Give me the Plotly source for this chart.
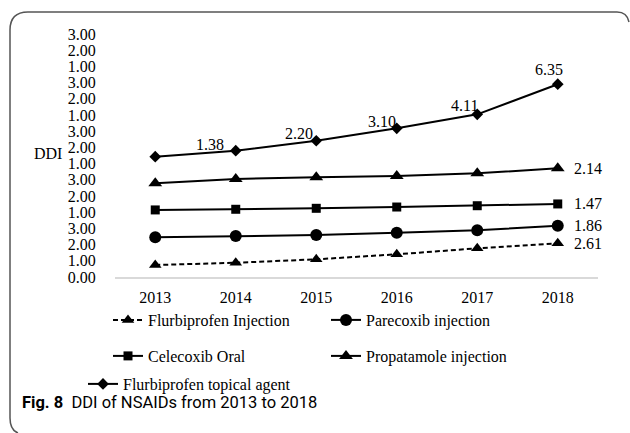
import plotly.graph_objects as go

# data (plotted on the figure's own 0..15 tick scale)
years = [2013, 2014, 2015, 2016, 2017, 2018]
flurbi_injection = [0.74, 0.88, 1.09, 1.40, 1.77, 2.08]
parecoxib = [2.45, 2.53, 2.59, 2.73, 2.88, 3.17]
celecoxib = [4.14, 4.18, 4.24, 4.32, 4.40, 4.51]
propatamole = [5.78, 6.05, 6.15, 6.23, 6.40, 6.71]
flurbi_topical = [7.43, 7.80, 8.41, 9.18, 10.04, 11.90]

topical_labels = ["", "1.38", "2.20", "3.10", "4.11", "6.35"]
end_labels = {"Propatamole injection": "2.14", "Celecoxib Oral": "1.47",
              "Parecoxib injection": "1.86", "Flurbiprofen Injection": "2.61"}

ytick_vals = list(range(16))
ytick_text = ["0.00", "1.00", "2.00", "3.00", "1.00", "2.00", "3.00", "1.00",
              "2.00", "3.00", "1.00", "2.00", "3.00", "1.00", "2.00", "3.00"]

W, H = 630, 433
ML, MR, MT, MB = 115, 32, 34, 156
PW, PH = W - ML - MR, H - MT - MB


def px(x):
    return (x - ML) / PW


def py(y):
    return (H - MB - y) / PH


serif = "Liberation Serif, Times New Roman, serif"

fig = go.Figure()

series = [
    ("Flurbiprofen Injection", flurbi_injection, "triangle-up", 11, "5px,3px", "legend"),
    ("Parecoxib injection", parecoxib, "circle", 12, "solid", "legend"),
    ("Celecoxib Oral", celecoxib, "square", 9, "solid", "legend2"),
    ("Propatamole injection", propatamole, "triangle-up", 12, "solid", "legend2"),
    ("Flurbiprofen topical agent", flurbi_topical, "diamond", 9, "solid", "legend3"),
]
for name, vals, sym, size, dash, leg in series:
    fig.add_trace(go.Scatter(
        x=years, y=vals, name=name, mode="lines+markers", legend=leg,
        line=dict(color="black", width=2, dash=dash),
        marker=dict(symbol=sym, size=size, color="black"),
        cliponaxis=False,
    ))

# value labels
offsets = [(0, 0), (-26, 6), (-17, 7), (-15, 7), (-13, 9), (-9, 15)]
for yr, v, t, (dx, dy) in zip(years, flurbi_topical, topical_labels, offsets):
    if t:
        fig.add_annotation(x=yr, y=v, text=t, showarrow=False, xshift=dx, yshift=dy,
                           font=dict(family=serif, size=16, color="black"))
for name, vals, *_ in series:
    if name in end_labels:
        fig.add_annotation(x=years[-1], y=vals[-1], text=end_labels[name], showarrow=False,
                           xanchor="left", xshift=14,
                           font=dict(family=serif, size=16, color="black"))

fig.add_annotation(xref="paper", yref="paper", x=px(48), y=py(153), xanchor="center",
                   yanchor="middle", text="DDI", showarrow=False,
                   font=dict(family=serif, size=16, color="black"))
fig.add_annotation(xref="paper", yref="paper", x=px(20), y=py(402), xanchor="left",
                   yanchor="middle", text="<b>Fig. 8</b>  DDI of NSAIDs from 2013 to 2018",
                   showarrow=False,
                   font=dict(family="Roboto, Open Sans, sans-serif", size=16.5, color="black"))

# frame around figure
pts = [(629, 22), (627, 12), (617, 12), (28, 12), (10, 12), (10, 30), (10, 418), (10, 430), (18, 433)]
p = [(px(a), py(b)) for a, b in pts]
path = (f"M {p[0][0]},{p[0][1]} Q {p[1][0]},{p[1][1]} {p[2][0]},{p[2][1]} "
        f"L {p[3][0]},{p[3][1]} Q {p[4][0]},{p[4][1]} {p[5][0]},{p[5][1]} "
        f"L {p[6][0]},{p[6][1]} Q {p[7][0]},{p[7][1]} {p[8][0]},{p[8][1]}")
fig.add_shape(type="path", xref="paper", yref="paper", path=path,
              line=dict(color="#555555", width=1.5))

legend_font = dict(family=serif, size=16, color="black")
leg_common = dict(orientation="h", xanchor="left", yanchor="middle", entrywidth=173,
                  entrywidthmode="pixels", font=legend_font, bgcolor="rgba(0,0,0,0)")
fig.update_layout(
    width=W, height=H,
    margin=dict(l=ML, r=MR, t=MT, b=MB),
    plot_bgcolor="white", paper_bgcolor="white",
    font=dict(family=serif, size=16, color="black"),
    xaxis=dict(range=[2012.5, 2018.5], tickvals=years, showgrid=False, zeroline=False,
               showline=True, linecolor="#d9d9d9", linewidth=1.5, ticks="outside",
               ticklen=5, tickcolor="rgba(0,0,0,0)", tickfont=dict(family=serif, size=16)),
    yaxis=dict(range=[0, 15], tickvals=ytick_vals, ticktext=ytick_text, showgrid=False,
               zeroline=False, showline=False, ticks="outside", ticklen=15,
               tickcolor="rgba(0,0,0,0)", tickfont=dict(family=serif, size=16)),
    legend=dict(x=px(108), y=py(320), **leg_common),
    legend2=dict(x=px(108), y=py(356), **leg_common),
    legend3=dict(x=px(83), y=py(384), **leg_common),
)

fig.write_html("out.html", config={"displayModeBar": False},
               post_script="document.body.style.margin='0';")
